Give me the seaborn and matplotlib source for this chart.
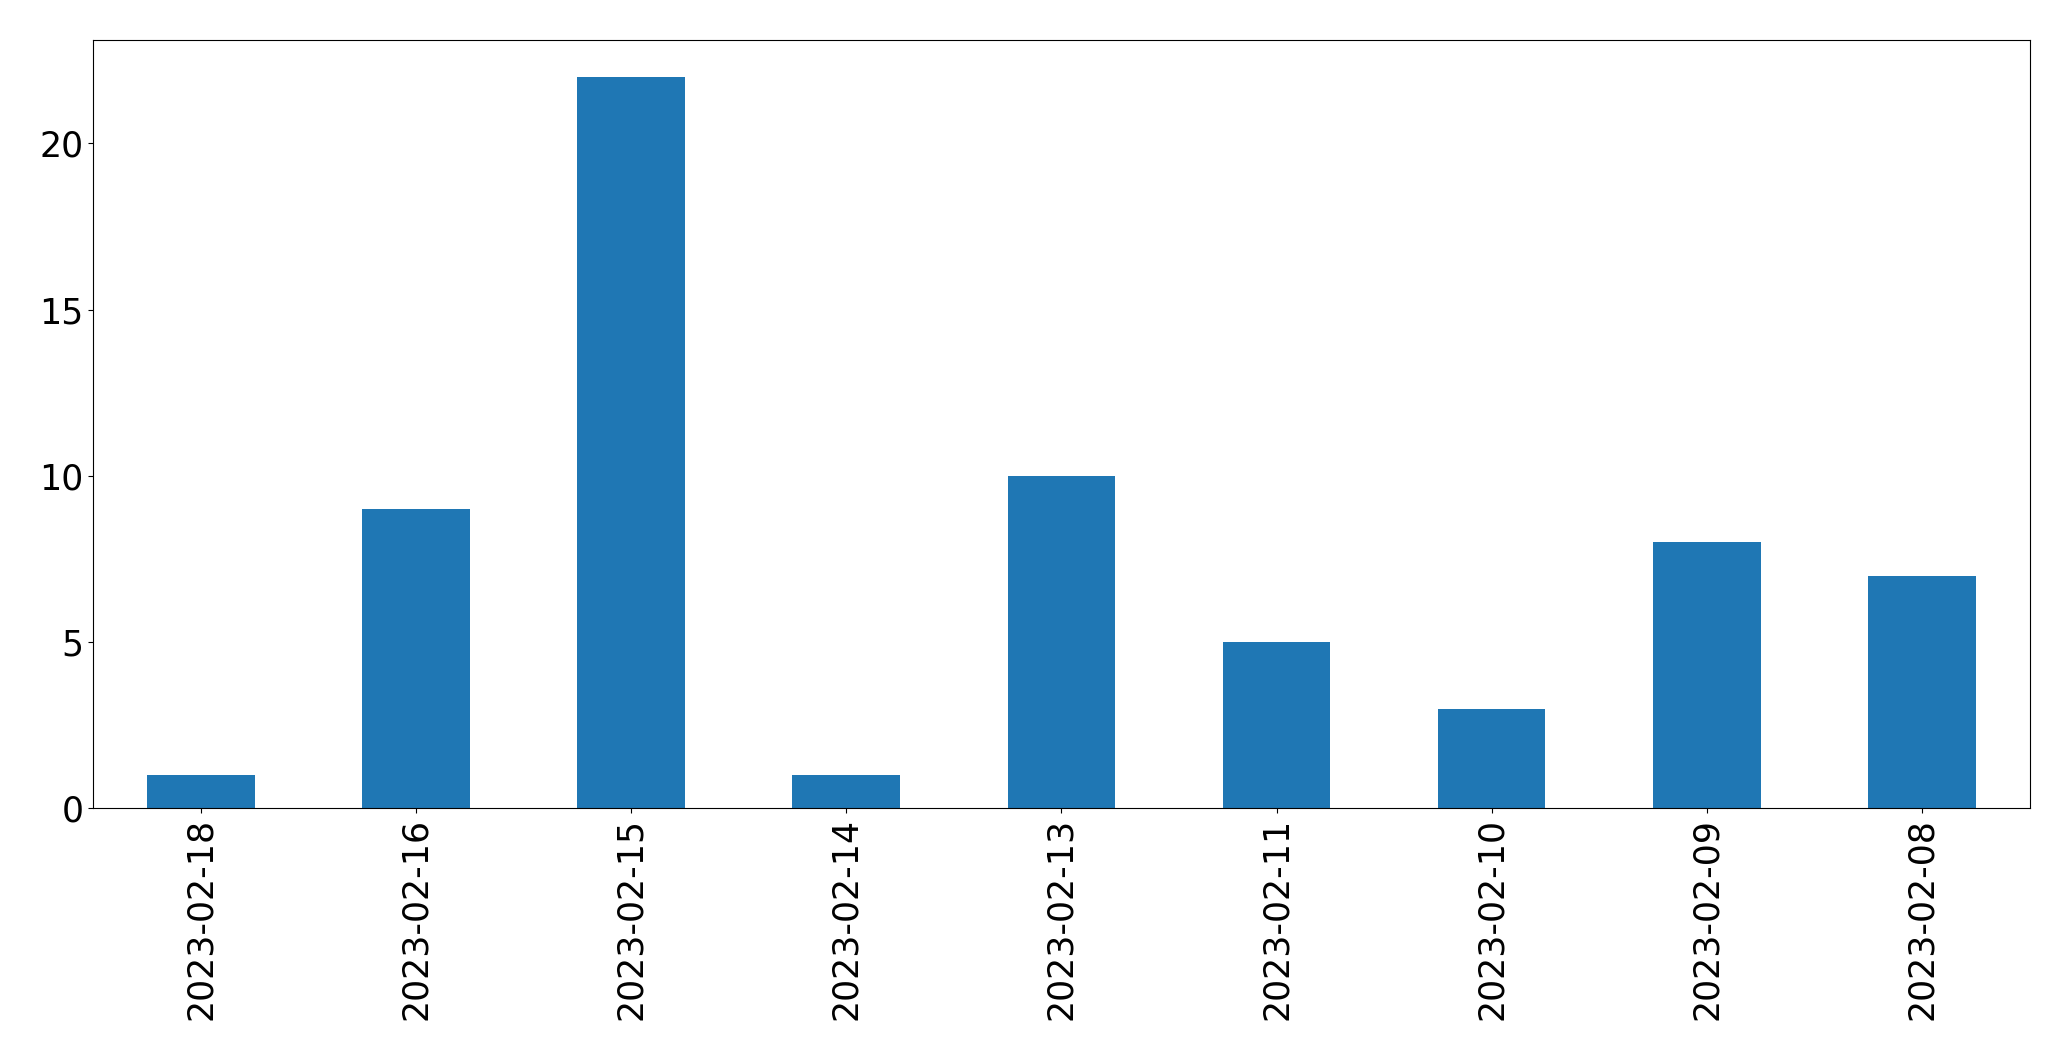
import matplotlib

matplotlib.use("Agg")
import matplotlib.pyplot as plt
import pandas as pd
import seaborn as sns

sns.set_style("ticks", {"axes.edgecolor": "black", "text.color": "black",
                        "xtick.color": "black", "ytick.color": "black"})
plt.rcParams["font.family"] = ["DejaVu Sans"]

DATES = ["2023-02-18", "2023-02-16", "2023-02-15", "2023-02-14", "2023-02-13",
         "2023-02-11", "2023-02-10", "2023-02-09", "2023-02-08"]
COUNTS = [1, 9, 22, 1, 10, 5, 3, 8, 7]

df = pd.DataFrame({"date": DATES, "count": COUNTS})

fig, ax = plt.subplots(figsize=(20.71, 10.61), dpi=100)
sns.barplot(data=df, x="date", y="count", order=DATES, color="#1f77b4",
            saturation=1, width=0.5, linewidth=0, edgecolor="none", ax=ax)
ax.set_xlim(-0.5, len(DATES) - 0.5)
ax.set_ylim(0, max(COUNTS) * 1.05)
ax.set_xlabel("")
ax.set_ylabel("")
ax.tick_params(axis="both", labelsize=25, labelcolor="black", color="black")
ax.tick_params(axis="x", rotation=90)
for s in ax.spines.values():
    s.set_visible(True)
    s.set_linewidth(0.8)
    s.set_color("black")
fig.subplots_adjust(left=0.045, right=0.980, top=0.962, bottom=0.238)
plt.savefig("out.png", dpi=100)
